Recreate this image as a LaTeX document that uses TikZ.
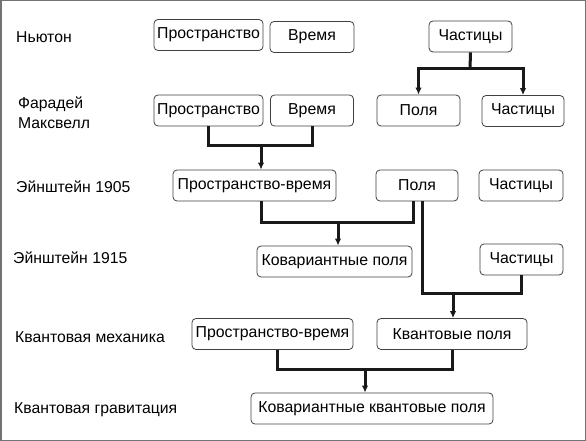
\documentclass[tikz,border=0pt]{standalone}
\usepackage{fontspec}
\setmainfont{Liberation Sans}
\usetikzlibrary{arrows.meta}
\tikzset{
  >= {Latex[length=7bp,width=6.5bp]},
  bx/.style={draw=black!75, line width=0.8bp, rounded corners=4bp, minimum height=31bp, minimum width=#1, inner sep=1bp, font=\fontsize{15.9}{18}\selectfont},
  bx/.default=80bp,
  lb/.style={anchor=west, inner sep=0pt, align=left, font=\fontsize{15.8}{20}\selectfont},
  ln/.style={line width=3bp, black!90}
}

\begin{document}
\begin{tikzpicture}[x=1bp,y=-1bp]
  \useasboundingbox (0,0) rectangle (586,441);
  \draw[black!55, line width=1.5bp] (0.75,0.75) rectangle (585.25,440.25);
  % row labels
  \node[lb] (nl) at (16,37) {Ньютон};
  \node[lb] (fl) at (18,113) {Фарадей\\Максвелл};
  \node[lb] (el) at (16,187) {Эйнштейн 1905};
  \node[lb] (gl) at (13,258) {Эйнштейн 1915};
  \node[lb] (ql) at (15,337) {Квантовая механика};
  \node[lb] (kl) at (14,410) {Квантовая гравитация};
  % boxes
  \node[bx=109bp] (pr1) at (208.5,35) {Пространство};
  \node[bx=84bp]  (vr1) at (312,37) {Время};
  \node[bx=83bp]  (c1)  at (470.5,36.5) {Частицы};
  \node[bx=109bp] (pr2) at (208.5,110.5) {Пространство};
  \node[bx=83bp]  (vr2) at (312,110.5) {Время};
  \node[bx=83bp]  (f2)  at (418.5,110.5) {Поля};
  \node[bx=82bp]  (c2)  at (523,111) {Частицы};
  \node[bx=163bp] (pv3) at (254.5,185.5) {Пространство-время};
  \node[bx=82bp]  (f3)  at (417,185.5) {Поля};
  \node[bx=84bp]  (c3)  at (521,185.5) {Частицы};
  \node[bx=155bp] (kf4) at (334.5,261.5) {Ковариантные поля};
  \node[bx=83bp]  (c4)  at (521.5,259.5) {Частицы};
  \node[bx=161bp] (pv5) at (272.5,334) {Пространство-время};
  \node[bx=150bp] (kp5) at (452,334) {Квантовые поля};
  \node[bx=242bp] (kk6) at (372,408.5) {Ковариантные квантовые поля};
  % junctions
  \coordinate (j0) at (470,69);
  \coordinate (j1) at (261,146);
  \coordinate (j2) at (338,223);
  \coordinate (j3) at (453,293);
  \coordinate (j4) at (365,369);
  % connectors
  \draw[ln] (c1.south) -- (j0);
  \draw[ln,->] (j0) -| (f2.north);
  \draw[ln,->] (j0) -| (c2.north);
  \draw[ln] (pr2.south) |- (j1) -| (vr2.south);
  \draw[ln,->] (j1) -- (j1 |- pv3.north);
  \draw[ln] (j1 |- pv3.south) |- (j2) -| ([xshift=-4bp]f3.south);
  \draw[ln,->] (j2) -- (j2 |- kf4.north);
  \draw[ln] ([xshift=5bp]f3.south) |- (j3) -| (c4.south);
  \draw[ln,->] (j3) -- (j3 |- kp5.north);
  \draw[ln] ([xshift=4.5bp]pv5.south) |- (j4) -| (kp5.south);
  \draw[ln,->] (j4) -- (j4 |- kk6.north);
\end{tikzpicture}
\end{document}
